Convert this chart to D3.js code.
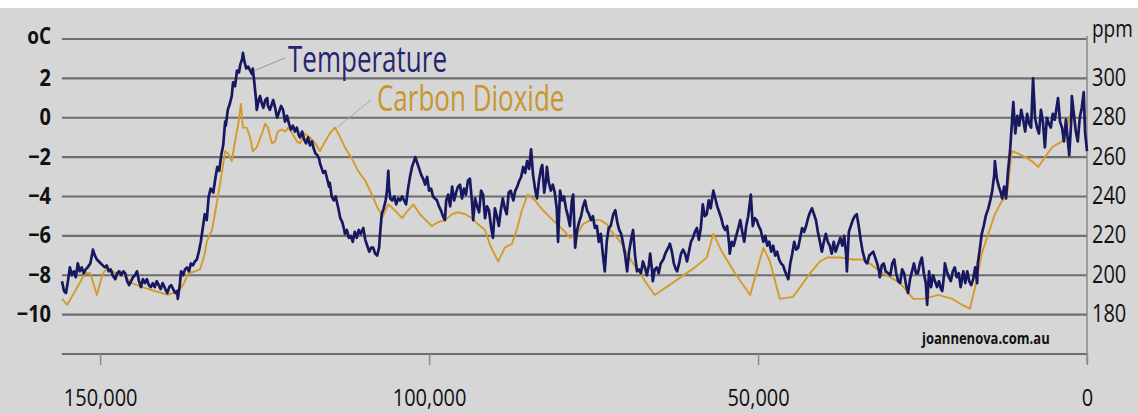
<!DOCTYPE html>
<html>
<head>
<meta charset="utf-8">
<script src="https://cdn.jsdelivr.net/npm/d3@7"></script>
<style>
  html, body { margin: 0; padding: 0; background: #d6d6d6; }
  svg { display: block; }
</style>
</head>
<body>
<svg id="chart" width="1138" height="414"></svg>
<script>
// Ages in thousands of years before present
const ageTicks = [150, 100, 50, 0];
const tempTicks = [2, 0, -2, -4, -6, -8, -10];
const ppmTicks = [300, 280, 260, 240, 220, 200, 180];
const gridTemps = [4, 2, 0, -2, -4, -6, -8, -10, -12];

// Vostok temperature anomaly [kyr BP, °C]
const temperature = [
  [155.8,-8.3],[155.5,-8.8],[155.2,-8.9],[154.9,-8.3],[154.6,-7.6],[154.3,-8.0],[154.0,-7.8],[153.7,-8.1],
  [153.4,-7.4],[153.1,-7.8],[152.8,-7.6],[152.5,-7.9],[152.2,-7.7],[151.9,-7.6],[151.5,-7.4],[151.2,-6.9],
  [151.1,-6.7],[150.8,-7.0],[150.5,-7.2],[150.2,-7.3],[149.9,-7.4],[149.6,-7.5],[149.3,-7.6],[149.0,-7.5],
  [148.7,-7.8],[148.4,-7.7],[148.1,-8.0],[147.7,-8.2],[147.4,-7.9],[147.1,-7.8],[146.8,-8.0],[146.5,-7.8],
  [146.2,-7.9],[145.9,-8.3],[145.6,-8.5],[145.3,-8.3],[145.0,-8.1],[144.7,-8.0],[144.4,-7.8],[144.1,-8.3],
  [143.8,-8.6],[143.5,-8.2],[143.2,-8.4],[142.9,-8.2],[142.6,-8.5],[142.3,-8.6],[142.0,-8.4],[141.7,-8.6],
  [141.4,-8.3],[141.1,-8.5],[140.8,-8.7],[140.5,-8.4],[140.1,-8.7],[139.8,-8.9],[139.5,-8.6],[139.2,-8.5],
  [138.9,-8.7],[138.6,-8.9],[138.3,-8.8],[138.2,-9.2],[137.9,-8.5],[137.7,-7.8],[137.4,-8.0],[137.1,-7.7],
  [136.8,-7.6],[136.5,-7.8],[136.2,-7.4],[135.9,-7.5],[135.6,-7.3],[135.3,-7.2],[135.0,-6.8],[134.7,-6.3],
  [134.4,-5.6],[134.1,-4.9],[133.8,-5.2],[133.5,-4.0],[133.2,-3.6],[132.8,-3.8],[132.5,-3.1],[132.2,-2.5],
  [131.9,-2.7],[131.6,-1.9],[131.3,-1.4],[131.0,-0.2],[130.9,-0.4],[130.6,0.4],[130.3,0.7],[130.0,1.1],
  [129.8,1.8],[129.5,1.6],[129.2,2.4],[128.9,2.3],[128.7,2.7],[128.4,3.0],[128.3,3.3],[128.1,2.9],
  [127.8,2.5],[127.5,2.6],[127.2,2.4],[126.9,2.2],[126.8,2.5],[126.6,1.9],[126.3,0.9],[126.2,0.4],
  [125.9,0.9],[125.7,1.1],[125.4,0.7],[125.2,0.5],[124.9,0.9],[124.6,1.0],[124.5,0.6],[124.2,0.4],
  [123.9,0.7],[123.7,0.9],[123.4,0.5],[123.1,0.0],[122.8,0.3],[122.5,0.6],[122.2,0.4],[121.9,-0.2],
  [121.6,0.1],[121.3,-0.3],[121.0,-0.6],[120.7,-0.4],[120.4,-0.7],[120.1,-0.5],[119.8,-0.9],[119.6,-1.0],
  [119.3,-0.7],[119.0,-1.1],[118.7,-1.3],[118.4,-1.0],[118.1,-1.4],[117.8,-1.2],[117.6,-1.5],[117.3,-1.8],
  [117.0,-1.9],[116.7,-2.1],[116.6,-2.3],[116.3,-2.6],[116.1,-2.8],[115.8,-2.7],[115.5,-3.1],[115.2,-3.5],
  [115.1,-3.3],[114.8,-4.0],[114.5,-4.2],[114.2,-4.0],[113.8,-4.6],[113.5,-5.1],[113.2,-5.3],[112.9,-5.7],
  [112.8,-5.9],[112.5,-5.7],[112.2,-6.1],[111.9,-6.0],[111.6,-6.3],[111.3,-5.8],[111.0,-6.1],[110.7,-5.7],
  [110.4,-5.9],[110.0,-5.6],[109.7,-6.2],[109.4,-6.5],[109.1,-6.8],[108.8,-6.6],[108.5,-6.6],[108.2,-6.9],
  [107.9,-7.0],[107.6,-6.6],[107.5,-6.1],[107.2,-4.9],[106.9,-4.6],[106.6,-4.2],[106.4,-3.7],[106.2,-2.7],
  [106.1,-3.5],[105.9,-4.1],[105.6,-4.2],[105.3,-4.0],[105.0,-4.4],[104.7,-4.1],[104.4,-4.2],[104.1,-4.0],
  [103.8,-4.2],[103.5,-4.4],[103.2,-3.6],[102.9,-3.0],[102.6,-2.5],[102.3,-2.2],[102.1,-2.0],[101.8,-2.3],
  [101.5,-2.6],[101.2,-2.9],[100.9,-3.1],[100.6,-3.4],[100.3,-3.0],[100.0,-3.7],[99.7,-3.6],[99.4,-4.0],
  [99.1,-4.1],[98.8,-4.2],[98.5,-4.5],[98.2,-4.7],[97.9,-5.0],[97.6,-5.2],[97.4,-4.2],[97.1,-3.9],
  [96.8,-4.5],[96.5,-3.5],[96.2,-4.2],[95.9,-3.8],[95.6,-3.5],[95.3,-3.4],[95.0,-4.1],[94.7,-3.6],
  [94.4,-3.9],[94.1,-3.2],[93.8,-3.1],[93.5,-4.2],[93.3,-5.2],[93.0,-4.1],[92.7,-4.5],[92.4,-4.8],
  [92.1,-3.7],[91.8,-3.9],[91.5,-5.1],[91.2,-4.5],[90.9,-4.7],[90.6,-5.5],[90.3,-6.1],[90.0,-4.6],
  [89.7,-5.0],[89.4,-5.5],[89.1,-4.7],[88.8,-4.1],[88.5,-4.6],[88.2,-4.9],[87.9,-3.8],[87.6,-3.7],
  [87.2,-4.2],[86.9,-3.7],[86.6,-3.5],[86.3,-3.2],[86.0,-3.0],[85.7,-2.5],[85.4,-2.8],[85.1,-2.2],
  [84.8,-2.6],[84.5,-1.6],[84.2,-2.9],[83.9,-3.6],[83.6,-4.1],[83.3,-3.2],[83.0,-2.6],[82.8,-2.4],
  [82.5,-3.8],[82.2,-3.1],[82.1,-2.5],[81.8,-3.3],[81.5,-3.7],[81.2,-3.4],[80.9,-3.8],[80.6,-4.6],
  [80.4,-6.3],[80.1,-3.7],[79.8,-4.2],[79.5,-4.0],[79.2,-4.6],[78.9,-5.0],[78.6,-5.5],[78.3,-4.2],
  [78.1,-3.9],[77.8,-6.6],[77.5,-5.7],[77.2,-5.3],[76.9,-5.0],[76.6,-4.5],[76.3,-4.2],[76.0,-4.7],
  [75.7,-4.9],[75.4,-5.2],[75.1,-5.0],[74.8,-5.6],[74.5,-5.5],[74.2,-6.3],[73.9,-5.9],[73.6,-6.9],
  [73.3,-7.8],[73.0,-6.3],[72.7,-5.6],[72.4,-5.5],[72.0,-4.9],[71.7,-4.7],[71.4,-5.3],[71.1,-5.7],
  [70.8,-5.9],[70.5,-6.4],[70.2,-7.0],[69.9,-7.8],[69.6,-6.8],[69.3,-6.2],[69.0,-5.7],[68.7,-7.0],
  [68.4,-7.8],[68.1,-7.7],[67.8,-7.9],[67.5,-7.3],[67.2,-7.6],[66.9,-8.0],[66.6,-7.5],[66.4,-6.9],
  [66.1,-7.8],[66.0,-8.3],[65.7,-7.7],[65.4,-7.6],[65.1,-7.9],[64.8,-7.4],[64.4,-7.2],[64.1,-6.9],
  [63.8,-6.7],[63.5,-6.5],[63.4,-6.4],[63.1,-6.8],[62.8,-7.4],[62.5,-7.7],[62.3,-7.8],[62.0,-7.4],
  [61.7,-6.9],[61.4,-6.7],[61.1,-6.9],[60.8,-7.3],[60.5,-6.8],[60.2,-6.3],[59.9,-6.1],[59.6,-5.8],
  [59.3,-5.6],[59.0,-6.2],[58.7,-5.6],[58.4,-4.4],[58.1,-5.0],[57.8,-4.9],[57.5,-4.2],[57.2,-4.6],
  [56.8,-3.7],[56.5,-4.1],[56.2,-4.5],[55.9,-4.8],[55.6,-5.1],[55.3,-5.5],[55.0,-5.7],[54.7,-5.5],
  [54.4,-6.4],[54.3,-6.9],[54.0,-6.3],[53.7,-6.5],[53.4,-6.1],[53.0,-5.6],[52.7,-5.2],[52.4,-5.8],
  [52.1,-6.3],[51.8,-5.5],[51.5,-5.0],[51.2,-4.2],[51.1,-3.9],[50.8,-5.5],[50.5,-5.1],[50.2,-5.2],
  [49.9,-5.5],[49.6,-5.7],[49.2,-6.3],[48.9,-6.0],[48.6,-6.5],[48.3,-6.3],[48.0,-6.8],[47.7,-6.5],
  [47.4,-7.0],[47.1,-6.8],[46.8,-7.2],[46.5,-7.4],[46.2,-7.5],[45.9,-7.8],[45.4,-8.2],[45.1,-7.4],
  [44.8,-6.9],[44.5,-6.3],[44.2,-6.7],[43.9,-6.6],[43.6,-6.1],[43.3,-5.6],[43.0,-5.8],[42.7,-5.5],
  [42.4,-5.1],[42.1,-4.8],[41.8,-4.6],[41.5,-4.9],[41.2,-5.2],[40.9,-5.8],[40.6,-6.3],[40.3,-6.8],
  [40.0,-6.3],[39.7,-5.9],[39.4,-6.3],[39.1,-6.5],[38.8,-6.9],[38.5,-6.3],[38.2,-6.8],[37.8,-6.4],
  [37.5,-6.1],[37.2,-6.5],[36.9,-6.0],[36.6,-7.0],[36.5,-7.8],[36.2,-5.8],[35.9,-5.5],[35.6,-5.2],
  [35.3,-5.0],[35.0,-4.9],[34.7,-5.5],[34.4,-6.2],[34.1,-6.8],[33.7,-7.3],[33.4,-7.4],[33.1,-7.0],
  [32.8,-6.9],[32.5,-6.8],[32.2,-7.1],[31.9,-7.4],[31.6,-7.8],[31.5,-8.1],[31.2,-7.5],[30.9,-7.4],
  [30.6,-7.8],[30.2,-7.9],[29.9,-8.0],[29.6,-7.4],[29.3,-7.2],[29.0,-7.9],[28.7,-8.3],[28.4,-8.4],
  [28.1,-7.7],[27.8,-7.9],[27.5,-8.5],[27.2,-8.9],[26.9,-8.2],[26.6,-7.8],[26.3,-7.4],[26.0,-7.9],
  [25.7,-7.9],[25.4,-7.4],[25.1,-7.1],[24.8,-7.9],[24.5,-8.4],[24.3,-9.5],[24.0,-7.8],[23.7,-8.6],
  [23.4,-8.0],[23.1,-8.3],[22.8,-8.6],[22.5,-8.3],[22.2,-8.7],[22.0,-8.8],[21.7,-7.9],[21.6,-7.4],
  [21.3,-7.8],[21.0,-8.1],[20.7,-8.3],[20.4,-7.8],[20.1,-7.6],[19.8,-8.1],[19.5,-7.9],[19.2,-8.6],
  [18.8,-7.8],[18.5,-8.4],[18.2,-7.8],[17.9,-8.3],[17.6,-8.5],[17.3,-8.2],[17.0,-7.6],[16.7,-8.4],
  [16.6,-7.4],[16.3,-6.7],[16.0,-5.9],[15.7,-5.5],[15.4,-5.0],[15.0,-4.6],[14.7,-4.2],[14.4,-3.7],
  [14.1,-2.9],[14.0,-2.2],[13.7,-3.1],[13.4,-3.5],[13.1,-3.8],[12.9,-4.1],[12.6,-3.5],[12.3,-4.1],
  [12.0,-2.7],[11.7,-1.7],[11.4,-0.2],[11.2,0.8],[10.9,-0.8],[10.6,0.1],[10.3,-0.4],[10.0,0.4],
  [9.7,-0.1],[9.4,-0.7],[9.1,0.2],[8.8,-0.3],[8.5,-0.5],[8.2,2.0],[7.9,0.0],[7.6,-0.5],
  [7.3,-0.8],[7.0,0.4],[6.7,-0.2],[6.4,-1.5],[6.1,0.0],[5.8,-0.3],[5.5,-0.5],[5.2,0.2],
  [4.9,-0.1],[4.4,1.0],[4.1,-0.2],[3.8,-0.5],[3.5,-1.2],[3.2,-0.1],[2.9,-1.2],[2.7,-1.9],
  [2.4,-0.2],[2.3,1.1],[2.0,0.2],[1.7,-0.7],[1.4,-1.2],[1.1,0.0],[0.8,0.5],[0.5,1.3],
  [0.3,-0.7],[0.0,-1.7]
];

// Atmospheric CO2 [kyr BP, ppm]
const carbonDioxide = [
  [155.8,188],[155.0,185],[153.8,192],[152.3,201],[151.5,201],[150.5,190],[149.6,201],[148.8,204],
  [147.7,201],[146.7,201],[145.2,196],[143.6,194],[141.7,192],[139.7,190],[138.2,192],[137.4,195],
  [136.6,201],[135.6,202],[134.8,203],[134.1,211],[133.8,217],[133.0,223],[132.2,238],[131.5,252],
  [131.0,263],[130.6,262],[130.0,258],[129.5,268],[129.0,277],[128.6,287],[128.3,275],[127.7,275],
  [127.2,270],[126.8,263],[126.2,265],[125.4,272],[124.9,277],[124.5,275],[123.9,267],[123.4,268],
  [123.0,273],[122.4,274],[121.9,273],[121.4,275],[120.8,272],[120.1,268],[119.6,267],[118.9,272],
  [118.1,270],[117.3,267],[116.6,263],[115.8,268],[115.1,272],[114.3,275],[113.5,270],[112.8,265],
  [111.7,259],[110.8,253],[109.7,248],[108.7,241],[107.8,234],[107.0,230],[106.2,236],[105.2,233],
  [104.1,229],[103.2,233],[102.4,236],[101.4,231],[100.5,228],[99.6,225],[98.6,227],[97.6,228],
  [96.5,231],[95.6,232],[94.5,231],[93.5,229],[92.6,226],[91.5,223],[90.7,215],[90.1,211],
  [89.5,207],[88.5,214],[87.4,216],[86.6,224],[85.9,233],[85.0,241],[83.9,238],[82.7,233],
  [81.2,228],[79.6,223],[78.6,219],[77.5,221],[76.6,226],[75.5,228],[74.0,228],[73.0,226],
  [72.0,221],[70.9,217],[69.9,211],[69.0,206],[67.9,201],[67.2,197],[65.7,190],[62.6,197],
  [59.6,204],[57.8,209],[56.8,221],[55.5,212],[53.5,201],[51.2,190],[50.2,202],[49.2,214],
  [48.2,207],[47.4,197],[46.7,188],[44.7,189],[43.6,194],[42.1,201],[40.6,207],[39.5,209],
  [37.5,209],[35.6,208],[34.2,208],[33.0,206],[31.5,202],[29.9,199],[28.4,196],[27.4,192],
  [26.4,188],[24.9,188],[22.6,190],[20.5,188],[19.0,185],[17.8,183],[17.0,194],[16.0,211],
  [15.0,221],[14.0,231],[12.9,238],[12.2,239],[11.7,255],[11.4,263],[10.6,262],[9.4,260],
  [8.4,258],[7.4,255],[6.4,260],[5.3,265],[3.8,268],[2.9,277],[2.3,284]
];

const W = 1138, H = 414;
const plot = { left: 62, right: 1087, top: 39, bottom: 354 };
const svg = d3.select('#chart');
const FONT = "'Open Sans', 'DejaVu Sans', sans-serif";

svg.append('rect').attr('width', W).attr('height', H).attr('fill', '#d6d6d6');
svg.append('rect').attr('width', W).attr('height', 8).attr('fill', '#ffffff');

const x = d3.scaleLinear().domain([155.8, 0]).range([plot.left, plot.right]);
const yT = d3.scaleLinear().domain([-12, 4]).range([plot.bottom, plot.top]);
const yC = d3.scaleLinear().domain([160, 320]).range([plot.bottom, plot.top]);

// Horizontal gridlines every 2 °C
svg.append('g').selectAll('line').data(gridTemps).join('line')
  .attr('x1', plot.left).attr('x2', plot.right)
  .attr('y1', d => yT(d)).attr('y2', d => yT(d))
  .attr('stroke', '#6e6e6e').attr('stroke-width', 2.2);

// Right-hand axis rule
svg.append('line')
  .attr('x1', plot.right).attr('x2', plot.right)
  .attr('y1', plot.top - 3).attr('y2', plot.bottom + 10)
  .attr('stroke', '#8a8a8a').attr('stroke-width', 1.5);

// Bottom axis (years before present)
const xAxis = svg.append('g')
  .attr('transform', `translate(0,${plot.bottom})`)
  .call(d3.axisBottom(x).tickValues(ageTicks).tickSize(11)
    .tickFormat(d => d3.format(',')(d * 1000)));
xAxis.select('.domain').remove();
xAxis.selectAll('.tick line').attr('stroke', '#8a8a8a').attr('stroke-width', 1.5);
xAxis.selectAll('.tick text')
  .attr('y', null).attr('dy', null)
  .attr('transform', 'translate(0,52) scale(1,1.18)')
  .attr('fill', '#111')
  .style('font-family', FONT).style('font-size', '20px');

// Left axis: temperature
const yAxisL = svg.append('g')
  .attr('transform', `translate(${plot.left},0)`)
  .call(d3.axisLeft(yT).tickValues(tempTicks).tickSize(0).tickFormat(d3.format('d')));
yAxisL.select('.domain').remove();
yAxisL.selectAll('.tick text')
  .attr('x', null).attr('dy', null)
  .attr('transform', 'translate(-11,7) scale(1,1.2)')
  .attr('fill', '#111')
  .style('font-family', FONT).style('font-size', '20px').style('font-weight', 700);

// Right axis: CO2
const yAxisR = svg.append('g')
  .attr('transform', `translate(${plot.right},0)`)
  .call(d3.axisRight(yC).tickValues(ppmTicks).tickSize(0));
yAxisR.select('.domain').remove();
yAxisR.selectAll('.tick text')
  .attr('x', null).attr('dy', null)
  .attr('transform', 'translate(5,7) scale(1,1.25)')
  .attr('fill', '#111')
  .style('font-family', FONT).style('font-size', '20px');

// Unit labels
svg.append('text')
  .attr('transform', `translate(${plot.left - 11},${plot.top + 5}) scale(1,1.2)`)
  .attr('text-anchor', 'end')
  .style('font-family', FONT).style('font-size', '19px').style('font-weight', 700)
  .attr('fill', '#111').text('oC');
svg.append('text')
  .attr('transform', `translate(${plot.right + 5},${plot.top - 2}) scale(1,1.25)`)
  .style('font-family', FONT).style('font-size', '19px')
  .attr('fill', '#111').text('ppm');

// Series
const lineT = d3.line().x(d => x(d[0])).y(d => yT(d[1]));
const lineC = d3.line().x(d => x(d[0])).y(d => yC(d[1]));

svg.append('path').datum(carbonDioxide)
  .attr('d', lineC).attr('fill', 'none')
  .attr('stroke', '#d49b2c').attr('stroke-width', 1.9)
  .attr('stroke-linejoin', 'round');

svg.append('path').datum(temperature)
  .attr('d', lineT).attr('fill', 'none')
  .attr('stroke', '#17185f').attr('stroke-width', 2.7)
  .attr('stroke-linejoin', 'round');

// Series callouts
svg.append('line')
  .attr('x1', x(126.5)).attr('y1', yT(2.4))
  .attr('x2', 285).attr('y2', 58)
  .attr('stroke', '#8c93a8').attr('stroke-width', 1);
svg.append('line')
  .attr('x1', x(114.0)).attr('y1', yC(275))
  .attr('x2', 371).attr('y2', 100)
  .attr('stroke', '#a9aab0').attr('stroke-width', 1);

svg.append('text')
  .attr('transform', 'translate(288,72) scale(1,1.4)')
  .style('font-family', FONT).style('font-size', '26px')
  .attr('fill', '#25266e').text('Temperature');
svg.append('text')
  .attr('transform', 'translate(377,111) scale(1,1.4)')
  .style('font-family', FONT).style('font-size', '26px')
  .attr('fill', '#c9952c').text('Carbon Dioxide');

svg.append('text')
  .attr('transform', 'translate(922,344) scale(1,1.25)')
  .style('font-family', FONT).style('font-size', '13px').style('font-weight', 700)
  .attr('fill', '#111').text('joannenova.com.au');
</script>
</body>
</html>
